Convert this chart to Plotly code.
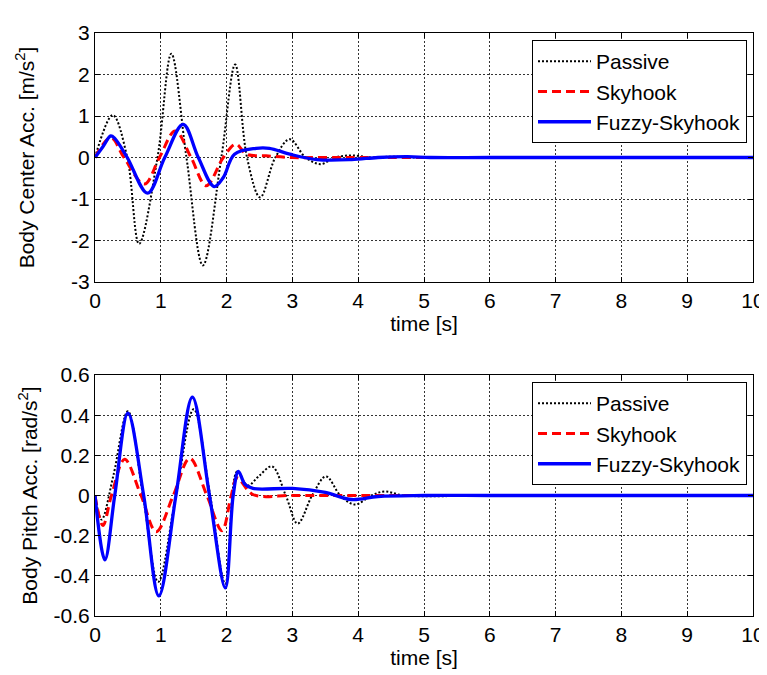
import plotly.graph_objects as go

# ---------------- data ----------------
# Top: Body Center Acc. [m/s^2]
t_pas_c = [0, 0.27, 0.49, 0.67, 0.95, 1.16, 1.39, 1.64, 1.92, 2.13, 2.31, 2.51, 2.74, 2.96, 3.2, 3.43, 3.65, 3.9, 4.2, 4.5, 4.8, 6, 8, 10]
y_pas_c = [0, 1.02, 0, -2.08, 0, 2.5, 0, -2.6, 0, 2.24, 0, -0.96, 0, 0.44, 0, -0.16, 0, 0.05, 0, 0.02, 0, 0, 0, 0]

t_sky_c = [0, 0.24, 0.44, 0.75, 0.98, 1.22, 1.46, 1.69, 1.95, 2.14, 2.3, 2.6, 3.0, 3.5, 4, 6, 8, 10]
y_sky_c = [0, 0.48, 0, -0.64, 0, 0.64, 0, -0.68, 0, 0.32, 0.08, 0.04, 0, 0, 0, 0, 0, 0]

t_fuz_c = [0, 0.12, 0.24, 0.3, 0.49, 0.8, 1.06, 1.34, 1.57, 1.81, 1.95, 2.12, 2.45, 2.65, 2.96, 3.37, 3.9, 4.3, 4.75, 5.1, 6, 8, 10]
y_fuz_c = [0, 0.26, 0.52, 0.46, 0, -0.86, 0, 0.8, 0, -0.7, -0.48, 0.08, 0.22, 0.22, 0.08, -0.05, -0.05, 0, 0.02, 0, 0, 0, 0]

# Bottom: Body Pitch Acc. [rad/s^2]
t_pas_p = [0, 0.1, 0.28, 0.5, 0.73, 0.96, 1.23, 1.5, 1.75, 1.98, 2.16, 2.32, 2.5, 2.69, 2.9, 3.08, 3.3, 3.51, 3.73, 3.95, 4.2, 4.4, 4.7, 6, 8, 10]
y_pas_p = [0, -0.12, 0.1, 0.42, 0, -0.43, 0, 0.43, 0, -0.44, 0.12, 0.05, 0.1, 0.145, 0, -0.14, 0, 0.095, 0, -0.045, 0, 0.02, 0, 0, 0, 0]

t_sky_p = [0, 0.12, 0.25, 0.45, 0.7, 0.93, 1.19, 1.44, 1.7, 1.93, 2.07, 2.16, 2.4, 3, 4, 5.5, 8, 10]
y_sky_p = [0, -0.15, 0, 0.18, 0, -0.18, 0, 0.185, 0, -0.175, 0, 0.087, 0.005, 0, 0, 0, 0, 0]

t_fuz_p = [0, 0.15, 0.3, 0.5, 0.74, 0.97, 1.23, 1.48, 1.74, 1.98, 2.1, 2.18, 2.28, 2.4, 3.0, 3.5, 3.9, 4.3, 5.0, 6, 8, 10]
y_fuz_p = [0, -0.32, 0, 0.41, 0, -0.5, 0, 0.49, 0, -0.46, 0, 0.12, 0.055, 0.035, 0.035, 0.015, -0.02, -0.005, 0, 0, 0, 0]

series_names = ["Passive", "Skyhook", "Fuzzy-Skyhook"]
x_ticks = list(range(0, 11))
y_ticks_c = [-3, -2, -1, 0, 1, 2, 3]
y_ticks_p = [-0.6, -0.4, -0.2, 0, 0.2, 0.4, 0.6]
y_text_p = ["-0.6", "-0.4", "-0.2", "0", "0.2", "0.4", "0.6"]
y_text_c = ["-3", "-2", "-1", "0", "1", "2", "3"]

# ---------------- figure ----------------
# page body has an 8px default margin, so the figure is drawn 8px in from the corner
W, H = 759, 667
OFF = 8
FONT = "Liberation Sans, Arial, Helvetica, sans-serif"
FS = 21

styles = [
    dict(color="black", width=2, dash="2px,2px"),
    dict(color="#ff0000", width=3, dash="9px,5px"),
    dict(color="#0000ff", width=3.3, dash="solid"),
]

fig = go.Figure()
top = [(t_pas_c, y_pas_c), (t_sky_c, y_sky_c), (t_fuz_c, y_fuz_c)]
bot = [(t_pas_p, y_pas_p), (t_sky_p, y_sky_p), (t_fuz_p, y_fuz_p)]
for (tx, ty), name, st in zip(top, series_names, styles):
    fig.add_trace(go.Scatter(x=tx, y=ty, mode="lines", name=name, line=dict(shape="spline", smoothing=1.0, **st),
                             xaxis="x", yaxis="y", legend="legend"))
for (tx, ty), name, st in zip(bot, series_names, styles):
    fig.add_trace(go.Scatter(x=tx, y=ty, mode="lines", name=name, line=dict(shape="spline", smoothing=1.0, **st),
                             xaxis="x2", yaxis="y2", legend="legend2"))

axis_common = dict(
    showline=True, linecolor="black", linewidth=1, mirror="ticks",
    ticks="inside", ticklen=5, tickcolor="black",
    showgrid=True, gridcolor="#333333", gridwidth=1, griddash="2px,2px",
    zeroline=False, tickfont=dict(family=FONT, size=FS, color="black"),
    automargin=False,
)

# reference pixel positions (page coords) -> figure coords
L_px, R_px = 95 - OFF, 753 - OFF
top_dom = [1 - (282 - OFF) / H, 1 - (33 - OFF) / H]
bot_dom = [1 - (616 - OFF) / H, 1 - (375 - OFF) / H]
leg_x = (747 - OFF - L_px) / (R_px - L_px)

leg_common = dict(x=leg_x, xanchor="right", yanchor="top", bgcolor="white",
                  bordercolor="black", borderwidth=1, font=dict(family=FONT, size=FS),
                  tracegroupgap=0, itemwidth=53)

fig.update_layout(
    width=W, height=H,
    margin=dict(l=L_px, r=W - R_px, t=0, b=0),
    paper_bgcolor="white", plot_bgcolor="white",
    font=dict(family=FONT, size=FS, color="black"),
    xaxis=dict(domain=[0, 1], anchor="y", range=[0, 10], tickvals=x_ticks,
               title=dict(text="time [s]", standoff=2, font=dict(size=FS)), **axis_common),
    yaxis=dict(domain=top_dom, anchor="x", range=[-3, 3], tickvals=y_ticks_c, ticktext=y_text_c,
               title=dict(text="Body Center Acc. [m/s<sup>2</sup>]", standoff=30, font=dict(size=FS)), **axis_common),
    xaxis2=dict(domain=[0, 1], anchor="y2", range=[0, 10], tickvals=x_ticks,
                title=dict(text="time [s]", standoff=2, font=dict(size=FS)), **axis_common),
    yaxis2=dict(domain=bot_dom, anchor="x2", range=[-0.6, 0.6], tickvals=y_ticks_p, ticktext=y_text_p,
                title=dict(text="Body Pitch Acc. [rad/s<sup>2</sup>]", standoff=10, font=dict(size=FS)), **axis_common),
    legend=dict(y=1 - (40 - OFF) / H, **leg_common),
    legend2=dict(y=1 - (382 - OFF) / H, **leg_common),
)

fig.write_html("out.html")
